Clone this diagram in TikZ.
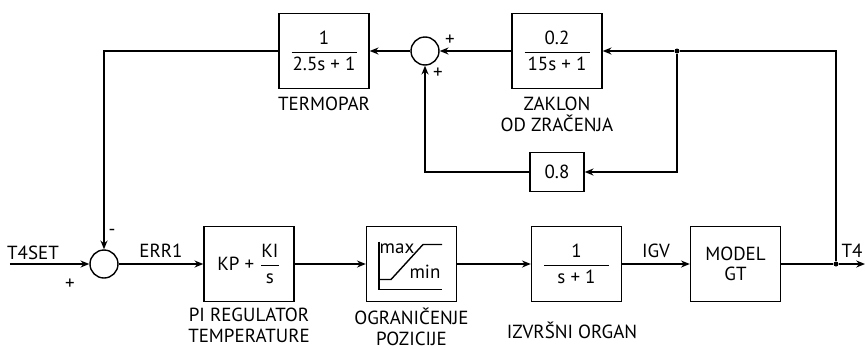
\documentclass[tikz,border=0pt]{standalone}
\usepackage{amsmath}
\usepackage{fontspec}
\setmainfont{PT Sans}
\usepackage{tikz}
\usetikzlibrary{positioning,arrows.meta,calc}

\newcommand{\blkfrac}[2]{$\dfrac{\text{#1}}{\makebox[1.3cm]{#2}}$}

\begin{document}
\begin{tikzpicture}[font=\fontsize{10.8}{11.2}\selectfont, line width=0.8pt,
  block/.style={draw, minimum width=1.8cm, minimum height=1.5cm, align=center},
  sumc/.style={draw, circle, minimum size=0.56cm, inner sep=0pt},
  jdot/.style={circle, fill, inner sep=0pt, minimum size=0.1cm},
  lbl/.style={align=center, inner sep=1pt, font=\fontsize{10.8}{12.4}\selectfont},
  >={Stealth[length=5pt,width=4pt]}]
\useasboundingbox (0,0) rectangle (17.32,-6.98);
% main loop
\coordinate (t4set) at (0.2,-5.28);
\node[sumc] (sum1) at (2.08,-5.28) {};
\node[block] (pi) at (4.98,-5.28) {KP + $\dfrac{\text{KI}}{\text{s}}$};
\node[block] (lim) at (8.23,-5.28) {};
\node[block] (act) at (11.53,-5.28) {\blkfrac{1}{s + 1}};
\node[block] (gt) at (14.71,-5.28) {MODEL\\GT};
\node[jdot] (jt4) at (16.72,-5.28) {};
\coordinate (t4end) at (17.30,-5.28);
% feedback path
\node[block] (term) at (6.48,-1.02) {\blkfrac{1}{2.5s + 1}};
\node[sumc] (sum2) at (8.5,-1.02) {};
\node[block] (zak) at (11.14,-1.02) {\blkfrac{0.2}{15s + 1}};
\node[jdot] (jtop) at (13.54,-1.02) {};
\node[draw, minimum width=1.08cm, minimum height=0.78cm] (gain) at (11.14,-3.44) {0.8};
% limiter symbol
\begin{scope}[shift={(lim)}]
\draw (-0.65,0.45) -- (-0.65,-0.51) -- (0.61,-0.51);
\draw (-0.65,-0.31) -- (-0.41,-0.31) -- (0.23,0.39) -- (0.61,0.39);
\node[inner sep=0pt] (mx) at (-0.29,0.3) {max};
\node[inner sep=0pt] (mn) at (0.27,-0.16) {min};
\end{scope}
% connectors
\draw[->] (t4set) -- (sum1);
\draw[->] (sum1) -- node[above] {ERR1} (pi);
\draw[->] (pi) -- (lim);
\draw[->] (lim) -- (act);
\draw[->] (act) -- node[above] {IGV} (gt);
\draw (gt) -- (jt4);
\draw[->] (jt4) -- node[above] {T4} (t4end);
\draw (jt4) |- (jtop);
\draw[->] (jtop) -- (zak);
\draw[->] (jtop) |- (gain);
\draw[->] (zak) -- (sum2);
\draw[->] (gain) -| (sum2);
\draw[->] (sum2) -- (term);
\draw[->] (term) -| (sum1);
% signs and labels
\node (t4setlbl) at (0.66,-5.06) {T4SET};
\node (pl1) at (1.4,-5.68) {+};
\node (mi1) at (2.24,-4.64) {-};
\node (pl2) at (9.0,-0.8) {+};
\node (pl3) at (8.76,-1.46) {+};
\node[lbl, below=0.06cm of pi] (pilbl) {PI REGULATOR\\TEMPERATURE};
\node[lbl, below=0.06cm of lim] (limlbl) {OGRANIČENJE\\POZICIJE};
\node[lbl] (actlbl) at (11.44,-6.6) {IZVRŠNI ORGAN};
\node[lbl, below=0.1cm of term] (termlbl) {TERMOPAR};
\node[lbl, below=0.1cm of zak] (zaklbl) {ZAKLON\\OD ZRAČENJA};
\end{tikzpicture}
\end{document}
